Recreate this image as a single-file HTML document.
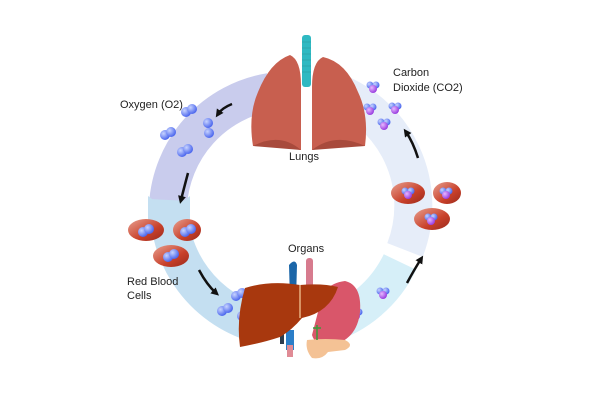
<!DOCTYPE html>
<html><head><meta charset="utf-8"><style>
html,body{margin:0;padding:0;background:#fff;}
svg{display:block;font-family:"Liberation Sans",sans-serif;}
</style></head><body>
<svg width="600" height="400" viewBox="0 0 600 400" xmlns="http://www.w3.org/2000/svg">
<defs>
<radialGradient id="bl" cx="35%" cy="35%" r="65%"><stop offset="0" stop-color="#c8d4ff"/><stop offset="1" stop-color="#4d68ee"/></radialGradient>
<radialGradient id="pu" cx="35%" cy="35%" r="65%"><stop offset="0" stop-color="#e6b8ff"/><stop offset="1" stop-color="#9a3fe0"/></radialGradient>
<linearGradient id="rbc" x1="0" y1="0" x2="1" y2="1"><stop offset="0" stop-color="#e8a090"/><stop offset=".6" stop-color="#c8402a"/><stop offset="1" stop-color="#9a2a1c"/></linearGradient>
<marker id="ah" markerUnits="userSpaceOnUse" markerWidth="8" markerHeight="8" refX="4" refY="4" orient="auto"><path d="M0,0 L8,4 L0,8 Z" fill="#111"/></marker>
<g id="o2"><circle cx="0" cy="0" r="5" fill="url(#bl)"/><circle cx="6" cy="-3" r="5" fill="url(#bl)"/></g>
<g id="co2"><circle cx="-3" cy="-2" r="3.5" fill="url(#bl)"/><circle cx="3" cy="-2" r="3.5" fill="url(#bl)"/><circle cx="0" cy="2" r="4" fill="url(#pu)"/></g>
</defs>
<!-- bands -->
<path d="M270,92 A122,122 0 0 0 168,205" fill="none" stroke="#c9cced" stroke-width="38"/>
<path d="M169,200 A122,122 0 0 0 262,325" fill="none" stroke="#c4dff1" stroke-width="38"/>
<polygon points="148,196 170,212 190,196 190,230 148,230" fill="#c4dff1"/>
<path d="M325,326 A122,122 0 0 0 400,262" fill="none" stroke="#d6eff8" stroke-width="36"/>
<path d="M405,250 A122,122 0 0 0 330,90" fill="none" stroke="#e6edf9" stroke-width="38"/>
<!-- arrows -->
<path d="M232,104 Q222,108 218,114" stroke="#111" stroke-width="2.5" fill="none" marker-end="url(#ah)"/>
<path d="M188,173 Q184,188 181,200" stroke="#111" stroke-width="2.5" fill="none" marker-end="url(#ah)"/>
<path d="M199,270 Q207,285 216,293" stroke="#111" stroke-width="2.5" fill="none" marker-end="url(#ah)"/>
<path d="M407,283 Q414,270 421,259" stroke="#111" stroke-width="2.5" fill="none" marker-end="url(#ah)"/>
<path d="M418,158 Q413,142 406,132" stroke="#111" stroke-width="2.5" fill="none" marker-end="url(#ah)"/>
<!-- lungs -->
<rect x="302" y="35" width="9" height="52" rx="3" fill="#2fb9c2"/>
<g stroke="#2a9aa0" stroke-width="0.6"><line x1="302" y1="42" x2="311" y2="42"/><line x1="302" y1="48" x2="311" y2="48"/><line x1="302" y1="54" x2="311" y2="54"/><line x1="302" y1="60" x2="311" y2="60"/><line x1="302" y1="66" x2="311" y2="66"/><line x1="302" y1="72" x2="311" y2="72"/></g>
<path d="M290,55 Q301,60 301,85 L301,150 Q278,146 253,146 Q248,115 258,92 Q270,62 290,55 Z" fill="#c85f4f"/>
<path d="M253,146 Q280,132 301,150 Z" fill="#a84a3c"/>
<path d="M323,57 Q312,62 312,87 L312,150 Q336,146 365,146 Q369,115 358,92 Q346,62 323,57 Z" fill="#c85f4f"/>
<path d="M365,146 Q335,132 312,150 Z" fill="#a84a3c"/>
<!-- O2 molecules -->
<use href="#o2" x="186" y="112"/><use href="#o2" x="165" y="135"/><use href="#o2" x="182" y="152"/>
<g><circle cx="208" cy="123" r="5" fill="url(#bl)"/><circle cx="209" cy="133" r="5" fill="url(#bl)"/></g>
<!-- CO2 -->
<use href="#co2" x="373" y="87"/><use href="#co2" x="370" y="109"/><use href="#co2" x="395" y="108"/><use href="#co2" x="384" y="124"/>
<!-- RBC left -->
<ellipse cx="146" cy="230" rx="18" ry="11" fill="url(#rbc)"/><use href="#o2" x="143" y="232"/>
<ellipse cx="187" cy="230" rx="14" ry="11" fill="url(#rbc)"/><use href="#o2" x="185" y="232"/>
<ellipse cx="171" cy="256" rx="18" ry="11" fill="url(#rbc)"/><use href="#o2" x="168" y="257"/>
<!-- RBC right -->
<ellipse cx="408" cy="193" rx="17" ry="11" fill="url(#rbc)"/><use href="#co2" x="408" y="193"/>
<ellipse cx="447" cy="193" rx="14" ry="11" fill="url(#rbc)"/><use href="#co2" x="446" y="193"/>
<ellipse cx="432" cy="219" rx="18" ry="11" fill="url(#rbc)"/><use href="#co2" x="431" y="219"/>
<!-- bottom molecules -->
<use href="#o2" x="236" y="296"/><use href="#o2" x="222" y="311"/><use href="#o2" x="242" y="316"/>
<use href="#co2" x="383" y="293"/><use href="#co2" x="356" y="314"/>
<!-- organs -->
<path d="M289,265 Q295,258 297,265 L296,300 L290,300 Z" fill="#1b66a8"/>
<rect x="306" y="258" width="7" height="40" rx="3" fill="#d77b8e"/>
<path d="M318,312 Q320,284 345,281 Q362,285 360,312 Q357,340 330,346 Q315,346 312,335 Z" fill="#d9566a"/>
<rect x="286" y="330" width="8" height="20" fill="#2b7ec8"/>
<rect x="287" y="345" width="6" height="12" fill="#e08b95"/>
<rect x="280" y="332" width="4" height="12" fill="#2d3c4e"/>
<path d="M307,340 Q325,338 345,340 Q355,345 345,350 L328,352 Q322,360 312,358 Q305,350 307,340 Z" fill="#f4c295"/>
<path d="M245,288 Q270,280 300,285 Q322,283 338,287 Q330,312 302,318 Q292,330 280,337 Q262,343 240,347 Q236,318 245,288 Z" fill="#a8380e"/>
<path d="M300,285 Q300,300 300,318" stroke="#e8b080" stroke-width="1.5" fill="none"/>
<path d="M317,325 l0,15 M313,328 l8,0" stroke="#3a9a3a" stroke-width="1.5"/>
<!-- text -->
<g font-size="11" fill="#222">
<text x="120" y="108">Oxygen (O2)</text>
<text x="393" y="76">Carbon</text>
<text x="393" y="91">Dioxide (CO2)</text>
<text x="289" y="160">Lungs</text>
<text x="288" y="252">Organs</text>
<text x="127" y="285">Red Blood</text>
<text x="127" y="299">Cells</text>
</g>
</svg>
</body></html>
